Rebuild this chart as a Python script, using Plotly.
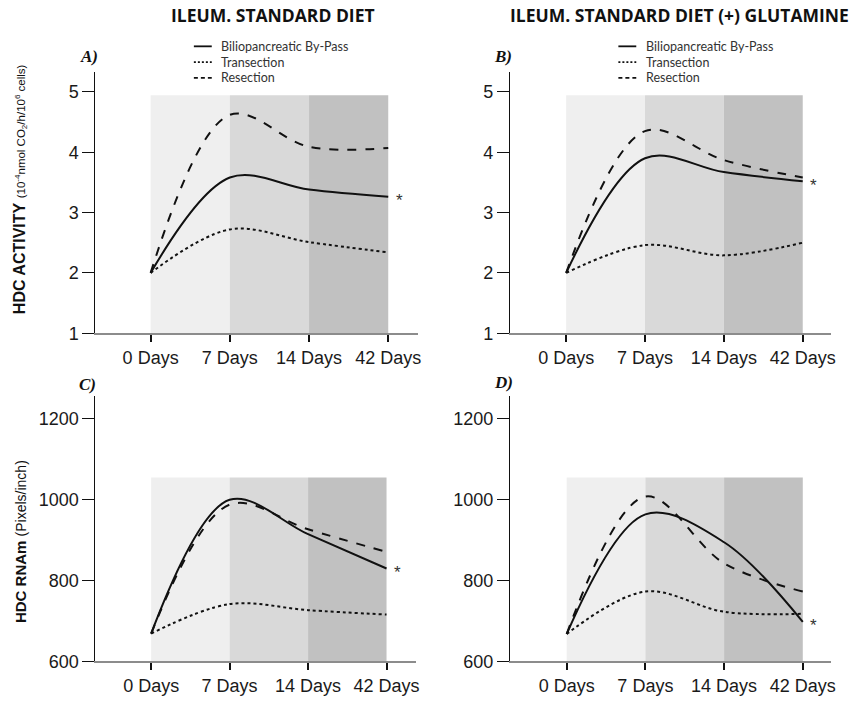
import plotly.graph_objects as go

# ---------------- data ----------------
days = ["0 Days", "7 Days", "14 Days", "42 Days"]
series_names = ["Biliopancreatic By-Pass", "Transection", "Resection"]

a_bypass = [2.0, 3.58, 3.38, 3.26]
a_transection = [2.0, 2.72, 2.51, 2.34]
a_resection = [2.0, 4.62, 4.09, 4.07]

b_bypass = [2.0, 3.90, 3.67, 3.52]
b_transection = [2.0, 2.46, 2.29, 2.50]
b_resection = [2.0, 4.35, 3.87, 3.58]

c_bypass = [669, 1000, 915, 830]
c_transection = [669, 742, 727, 716]
c_resection = [669, 988, 927, 871]

d_bypass = [668, 964, 895, 698]
d_transection = [668, 773, 723, 718]
d_resection = [668, 1008, 843, 773]

activity_ticks = [1, 2, 3, 4, 5]
rnam_ticks = [600, 800, 1000, 1200]
activity_band_top = 4.945
rnam_band_top = 1055

# ---------------- styling ----------------
W, H = 858, 705
dashes = ["solid", "dot", "dash"]
legend_dashes = ["solid", "2px,2px", "4px,3px"]
band_colors = ["#efefef", "#d9d9d9", "#c1c1c1"]
tick_font = dict(family="Liberation Sans, Arial", size=18, color="#1a1a1a")

panels = [
    dict(series=[a_bypass, a_transection, a_resection], xa="x", ya="y",
         xd=(96, 420), yd=(73, 338), xr=[-0.697, 3.37], yr=[1, 5.33],
         ticks=activity_ticks, band=activity_band_top, label="A)", lab_xy=(90, 57),
         legend_x=(195, 213, 220)),
    dict(series=[b_bypass, b_transection, b_resection], xa="x2", ya="y2",
         xd=(513, 836), yd=(73, 338), xr=[-0.712, 3.36], yr=[1, 5.33],
         ticks=activity_ticks, band=activity_band_top, label="B)", lab_xy=(506, 57),
         legend_x=(622, 640, 648)),
    dict(series=[c_bypass, c_transection, c_resection], xa="x3", ya="y3",
         xd=(96, 418), yd=(402, 671), xr=[-0.71, 3.37], yr=[600, 1256],
         ticks=rnam_ticks, band=rnam_band_top, label="C)", lab_xy=(88, 390),
         legend_x=None),
    dict(series=[d_bypass, d_transection, d_resection], xa="x4", ya="y4",
         xd=(513, 836), yd=(402, 671), xr=[-0.72, 3.36], yr=[600, 1256],
         ticks=rnam_ticks, band=rnam_band_top, label="D)", lab_xy=(506, 388),
         legend_x=None),
]
legend_rows = [47, 63, 79]

fig = go.Figure()
shapes = []
annotations = []
layout_axes = {}

for i, p in enumerate(panels):
    for name, vals, dash in zip(series_names, p["series"], dashes):
        fig.add_trace(go.Scatter(
            x=days, y=vals, name=name, mode="lines",
            line=dict(color="#111111", width=2, dash=dash, shape="spline", smoothing=1.0),
            xaxis=p["xa"], yaxis=p["ya"], showlegend=False, hoverinfo="skip",
        ))
    # background bands between consecutive time points
    for k in range(len(days) - 1):
        shapes.append(dict(type="rect", xref=p["xa"], yref=p["ya"],
                           x0=k, x1=k + 1, y0=p["yr"][0], y1=p["band"],
                           fillcolor=band_colors[k], line=dict(width=0), layer="below"))
    # asterisk after last bypass point
    annotations.append(dict(xref=p["xa"], yref=p["ya"], x=len(days) - 1, y=p["series"][0][-1],
                            text="*", showarrow=False, xshift=11, yshift=-4,
                            font=dict(family="Liberation Sans, Arial", size=17, color="#333")))
    # panel label
    annotations.append(dict(xref="paper", yref="paper", x=p["lab_xy"][0] / W,
                            y=1 - p["lab_xy"][1] / H, text="<b><i>%s</i></b>" % p["label"],
                            showarrow=False, xanchor="center", yanchor="middle",
                            font=dict(family="Liberation Serif, Times New Roman", size=17,
                                      color="#111")))
    # legend (drawn as sample lines + labels)
    if p["legend_x"]:
        lx0, lx1, tx = p["legend_x"]
        for name, dash, ry in zip(series_names, legend_dashes, legend_rows):
            yy = 1 - ry / H
            shapes.append(dict(type="line", xref="paper", yref="paper",
                               x0=lx0 / W, x1=lx1 / W, y0=yy, y1=yy,
                               line=dict(color="#111", width=1.8, dash=dash)))
            annotations.append(dict(xref="paper", yref="paper", x=tx / W, y=yy,
                                    text=name, showarrow=False, xanchor="left",
                                    yanchor="middle",
                                    font=dict(family="Lato", size=12.5, color="#333")))
    suffix = "" if i == 0 else str(i + 1)
    layout_axes["xaxis" + suffix] = dict(
        domain=[p["xd"][0] / W, p["xd"][1] / W], range=p["xr"], type="category",
        anchor=p["ya"], showgrid=False, zeroline=False, showline=True,
        linecolor="#8c8c8c", linewidth=2, ticks="outside", ticklen=7, tickwidth=1.5,
        tickcolor="#111", tickfont=tick_font, fixedrange=True)
    layout_axes["yaxis" + suffix] = dict(
        domain=[1 - p["yd"][1] / H, 1 - p["yd"][0] / H], range=p["yr"],
        anchor=p["xa"], showgrid=False, zeroline=False, showline=True,
        linecolor="#111", linewidth=1.2, ticks="outside", ticklen=12, tickwidth=1.2,
        tickcolor="#111", tickvals=p["ticks"], tickfont=tick_font, fixedrange=True)

# column titles
annotations.append(dict(xref="paper", yref="paper", x=275 / W, y=1 - 15 / H,
                        text="<b>ILEUM. STANDARD DIET</b>", showarrow=False,
                        xanchor="center", yanchor="middle",
                        font=dict(family="Open Sans", size=17.5, color="#111")))
annotations.append(dict(xref="paper", yref="paper", x=683 / W, y=1 - 15 / H,
                        text="<b>ILEUM. STANDARD DIET (+) GLUTAMINE</b>", showarrow=False,
                        xanchor="center", yanchor="middle",
                        font=dict(family="Open Sans", size=17.5, color="#111")))
# y-axis titles
annotations.append(dict(xref="paper", yref="paper", x=20 / W, y=1 - 192 / H,
                        text="<b>HDC ACTIVITY</b> <span style='font-size:11.5px'>(10<sup>-4</sup>nmol CO<sub>2</sub>/h/10<sup>6</sup> cells)</span>",
                        textangle=-90, showarrow=False, xanchor="center", yanchor="middle",
                        font=dict(family="Liberation Sans, Arial", size=16, color="#111")))
annotations.append(dict(xref="paper", yref="paper", x=20 / W, y=1 - 549 / H,
                        text="<b>HDC RNAm</b> <span style='font-size:14px'>(Pixels/inch)</span>",
                        textangle=-90, showarrow=False, xanchor="center", yanchor="middle",
                        font=dict(family="Liberation Sans, Arial", size=15, color="#111")))

fig.update_layout(
    width=W, height=H, autosize=False,
    margin=dict(l=0, r=0, t=0, b=0),
    paper_bgcolor="white", plot_bgcolor="white",
    shapes=shapes, annotations=annotations, showlegend=False,
    **layout_axes,
)

fig.write_html("out.html")
